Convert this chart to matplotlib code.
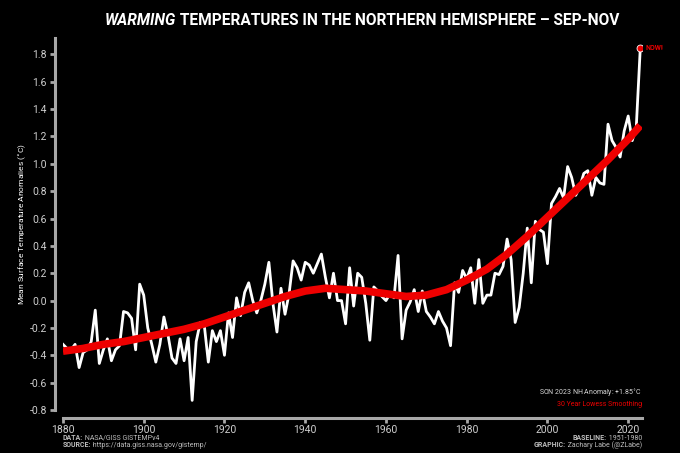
import numpy as np
import matplotlib
matplotlib.use("Agg")
import matplotlib.pyplot as plt

plt.rcParams['font.family'] = ['Roboto', 'DejaVu Sans']

# SON northern hemisphere anomalies (deg C)
years = list(range(1880, 2024))
anom = [
    -0.32, -0.35, -0.36, -0.32, -0.49, -0.38, -0.36, -0.30, -0.07, -0.46,
    -0.36, -0.28, -0.44, -0.36, -0.33, -0.08, -0.09, -0.13, -0.36, 0.12,
    0.04, -0.20, -0.32, -0.45, -0.32, -0.12, -0.25, -0.42, -0.46, -0.28,
    -0.44, -0.27, -0.73, -0.30, -0.16, -0.18, -0.45, -0.22, -0.30, -0.22,
    -0.40, -0.09, -0.27, 0.02, -0.11, 0.06, 0.13, 0.00, -0.09, 0.00,
    0.12, 0.28, -0.02, -0.23, 0.09, -0.10, 0.05, 0.29, 0.24, 0.15,
    0.28, 0.26, 0.20, 0.27, 0.34, 0.17, 0.02, 0.20, 0.00, 0.00,
    -0.17, 0.24, -0.04, 0.20, 0.17, -0.02, -0.29, 0.10, 0.07, 0.03,
    0.00, 0.05, 0.02, 0.33, -0.28, -0.07, -0.01, 0.08, -0.08, 0.07,
    -0.08, -0.12, -0.17, -0.08, -0.15, -0.20, -0.33, 0.13, 0.06, 0.22,
    0.16, 0.24, -0.02, 0.30, -0.02, 0.04, 0.04, 0.20, 0.19, 0.25,
    0.45, 0.30, -0.16, -0.05, 0.20, 0.53, 0.13, 0.58, 0.52, 0.50,
    0.27, 0.71, 0.76, 0.82, 0.75, 0.98, 0.90, 0.77, 0.83, 0.93,
    0.95, 0.77, 0.90, 0.86, 0.85, 1.29, 1.17, 1.12, 1.05, 1.24,
    1.35, 1.17, 1.27, 1.85,
]

# 30-year lowess curve
smooth_years = [1880, 1885, 1890, 1895, 1900, 1905, 1910, 1915, 1920, 1925,
                1930, 1935, 1940, 1945, 1950, 1955, 1960, 1965, 1970, 1975,
                1980, 1985, 1990, 1995, 2000, 2005, 2010, 2015, 2020, 2023]
smooth = [-0.37, -0.35, -0.32, -0.30, -0.27, -0.24, -0.21, -0.17, -0.12, -0.07,
          -0.02, 0.03, 0.07, 0.09, 0.08, 0.07, 0.05, 0.03, 0.04, 0.08,
          0.15, 0.23, 0.34, 0.47, 0.61, 0.75, 0.89, 1.03, 1.18, 1.28]

xticks = [1880, 1900, 1920, 1940, 1960, 1980, 2000, 2020]
yticks = [-0.8, -0.6, -0.4, -0.2, 0.0, 0.2, 0.4, 0.6, 0.8, 1.0, 1.2, 1.4, 1.6, 1.8]

gray = '#a8a8a8'
red = '#ee0000'

fig = plt.figure(figsize=(6.8, 4.53), dpi=100, facecolor='black')
ax = fig.add_axes([0.0926, 0.095, 0.852, 0.821])
ax.set_facecolor('black')

ax.plot(years, anom, color='white', lw=2.0, zorder=3)
ax.plot(smooth_years, smooth, color=red, lw=5.5, solid_capstyle='butt', zorder=4)
ax.plot(years[-1], anom[-1], 'o', ms=5, color=red, mec='white', mew=0.6, zorder=5)
ax.text(years[-1] + 1.3, anom[-1], 'NOW!', color=red, fontsize=5,
        fontweight='bold', va='center', ha='left')

ax.set_xlim(1880, 2023.5)
ax.set_ylim(-0.8, 1.92)
ax.set_xticks(xticks)
ax.set_yticks(yticks)
ax.set_yticklabels(['%.1f' % v for v in yticks])

for s in ['top', 'right']:
    ax.spines[s].set_visible(False)
ax.spines['left'].set_position(('outward', 6))
ax.spines['bottom'].set_position(('outward', 6))
for s in ['left', 'bottom']:
    ax.spines[s].set_color(gray)
    ax.spines[s].set_linewidth(2.2)
ax.tick_params(axis='both', colors=gray, length=3.5, width=2, labelcolor='#cfcfcf',
               labelsize=7.5, pad=2)
ax.tick_params(axis='x', labelsize=7.5, pad=1)

ax.set_ylabel('Mean Surface Temperature Anomalies ($^{\\circ}$C)', color='white',
              fontsize=6)
ax.yaxis.set_label_coords(-0.058, 0.5)

ax.text(1.0, 0.03, 'SON 2023 NH Anomaly: +1.85$^{\\circ}$C', transform=ax.transAxes,
        color='#d8d8d8', fontsize=5, ha='right', va='bottom')
ax.text(1.0, 0.005, '30 Year Lowess Smoothing', transform=ax.transAxes,
        color=red, fontsize=5, ha='right', va='bottom')

fig.canvas.draw()
renderer = fig.canvas.get_renderer()


def put_runs(x, y, runs, ha='left', **common):
    texts = [fig.text(0, y, s, **common, **kw) for s, kw in runs]
    widths = [t.get_window_extent(renderer).width / fig.bbox.width for t in texts]
    total = sum(widths)
    if ha == 'center':
        start = x - total / 2
    elif ha == 'right':
        start = x - total
    else:
        start = x
    for t, w in zip(texts, widths):
        t.set_x(start)
        start += w


put_runs(0.532, 0.955, [('WARMING', dict(fontstyle='italic')),
                        (' TEMPERATURES IN THE NORTHERN HEMISPHERE \u2013 SEP-NOV', {})],
         ha='center', color='white', fontsize=11.2, fontweight='bold', va='center')

foot = dict(fontsize=5, color='#bdbdbd', va='center')
put_runs(0.0926, 0.033, [('DATA:', dict(fontweight='bold')),
                         (' NASA/GISS GISTEMPv4', {})], **foot)
put_runs(0.0926, 0.017, [('SOURCE:', dict(fontweight='bold')),
                         (' https://data.giss.nasa.gov/gistemp/', {})], **foot)
put_runs(0.944, 0.033, [('BASELINE:', dict(fontweight='bold')),
                        (' 1951-1980', {})], ha='right', **foot)
put_runs(0.944, 0.017, [('GRAPHIC:', dict(fontweight='bold')),
                        (' Zachary Labe (@ZLabe)', {})], ha='right', **foot)

fig.savefig('out.png', dpi=100, facecolor='black')
